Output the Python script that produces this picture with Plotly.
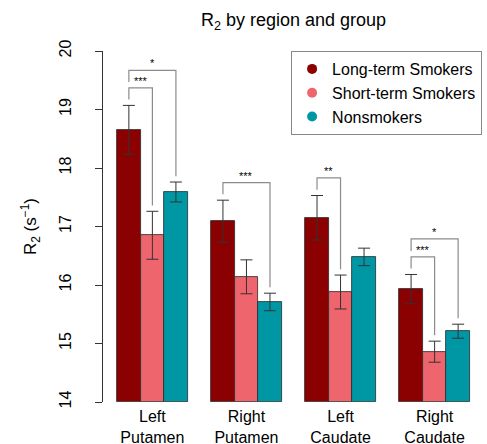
import plotly.graph_objects as go

regions = ["Left<br>Putamen", "Right<br>Putamen", "Left<br>Caudate", "Right<br>Caudate"]
groups = ["Long-term Smokers", "Short-term Smokers", "Nonsmokers"]
colors = ["#8B0000", "#EE656D", "#0097A4"]

long_term = [18.65, 17.09, 17.15, 15.93]
short_term = [16.85, 16.14, 15.88, 14.86]
nonsmokers = [17.59, 15.71, 16.48, 15.21]

long_term_se = [0.42, 0.36, 0.38, 0.25]
short_term_se = [0.41, 0.29, 0.29, 0.18]
nonsmokers_se = [0.17, 0.15, 0.15, 0.12]

# significance: (region index, group a, group b, bracket top value, label)
sig_region = [0, 0, 1, 2, 3, 3]
sig_a = [0, 0, 0, 0, 0, 0]
sig_b = [1, 2, 2, 1, 1, 2]
sig_top = [19.37, 19.67, 17.75, 17.83, 16.48, 16.79]
sig_label = ["***", "*", "***", "**", "***", "*"]

means = [long_term, short_term, nonsmokers]
ses = [long_term_se, short_term_se, nonsmokers_se]

FONT = "Liberation Sans, Arial, Helvetica, sans-serif"

def xpos(r, j):
    return 1.5 + 4 * r + j

fig = go.Figure()
for j in range(3):
    fig.add_trace(go.Bar(
        x=[xpos(r, j) for r in range(4)],
        y=[m - 14 for m in means[j]],
        base=14,
        width=1,
        marker=dict(color=colors[j], line=dict(color="#2a2a2a", width=0.8)),
        error_y=dict(type="data", array=ses[j], color="#333333", thickness=1, width=6),
        showlegend=False,
        name=groups[j],
    ))
for j in range(3):
    fig.add_trace(go.Scatter(
        x=[None], y=[None], mode="markers",
        marker=dict(color=colors[j], size=10, symbol="circle"),
        name=groups[j], showlegend=True,
    ))

shapes = []
annotations = []
for k in range(len(sig_label)):
    r, a, b = sig_region[k], sig_a[k], sig_b[k]
    xa, xb = xpos(r, a), xpos(r, b)
    top = sig_top[k]
    inner = [sig_top[i] for i in range(len(sig_label))
             if sig_region[i] == r and i != k and sig_top[i] < top]
    if inner:
        left_end = max(inner) + 0.1
    else:
        left_end = means[a][r] + ses[a][r] + 0.1
    right_end = means[b][r] + ses[b][r] + 0.1
    shapes.append(dict(
        type="path", xref="x", yref="y",
        path=f"M {xa},{left_end} L {xa},{top} L {xb},{top} L {xb},{right_end}",
        line=dict(color="#8c8c8c", width=1.2),
    ))
    annotations.append(dict(
        x=(xa + xb) / 2, y=top, xref="x", yref="y", text=sig_label[k],
        showarrow=False, yanchor="bottom", yshift=-1,
        font=dict(size=11, color="black", family=FONT),
    ))

fig.update_layout(
    width=487, height=444,
    margin=dict(l=103, r=3, t=51, b=42, autoexpand=False),
    paper_bgcolor="white", plot_bgcolor="white",
    font=dict(family=FONT, size=16, color="black"),
    title=dict(text="R<sub>2</sub> by region and group", x=(103 + 484) / 2 / 487,
               xanchor="center", y=1 - 20 / 444, yanchor="middle", automargin=False,
               font=dict(size=18, family=FONT, color="black")),
    xaxis=dict(range=[0.4, 16.6], tickvals=[2.5, 6.5, 10.5, 14.5], ticktext=regions,
               showline=False, ticks="", showgrid=False, zeroline=False, automargin=False,
               ticklabelstandoff=3, tickfont=dict(size=16)),
    yaxis=dict(range=[14, 20], tickvals=[14, 15, 16, 17, 18, 19, 20],
               showline=True, linecolor="#333333", linewidth=1,
               ticks="outside", ticklen=7, tickcolor="#333333",
               tickangle=-90, ticklabelstandoff=18, automargin=False,
               showgrid=False, zeroline=False, tickfont=dict(size=16),
               title=dict(text="R<sub>2</sub> (s<sup>\u22121</sup>)", standoff=15,
                          font=dict(size=17))),
    legend=dict(x=0.995, y=1, xanchor="right", yanchor="top",
                bordercolor="#888888", borderwidth=1, bgcolor="white",
                font=dict(size=16), itemwidth=30, tracegroupgap=0),
    shapes=shapes, annotations=annotations, bargap=0,
)
fig.write_html(
    "out.html",
    config={"displayModeBar": False},
    post_script="document.body.style.margin='0';document.body.style.padding='0';"
                "document.body.style.overflow='hidden';",
)
